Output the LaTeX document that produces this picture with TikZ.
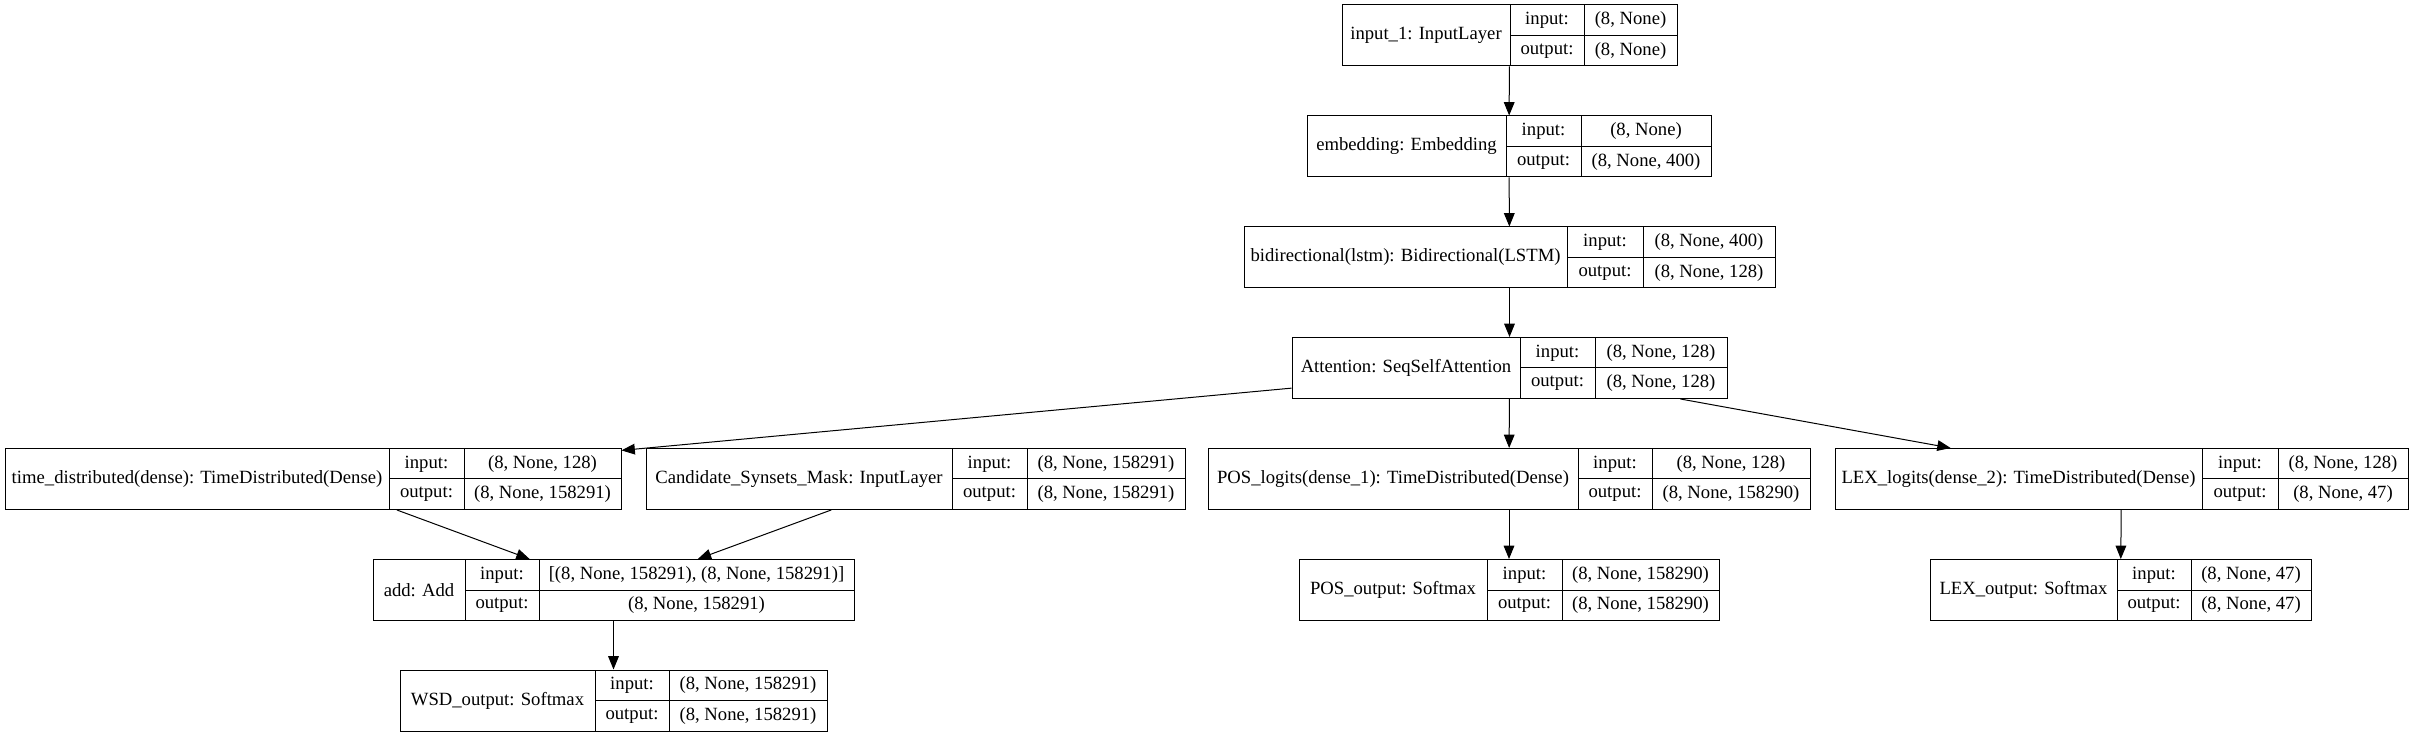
\documentclass[tikz,border=0pt]{standalone}
\usepackage{fontspec}
\setmainfont{Liberation Serif}
\usetikzlibrary{arrows.meta,fit}
\tikzset{
  box/.style={draw=black, line width=0.75pt, inner sep=0pt, rectangle},
  cell/.style={draw=black, line width=0.75pt},
  txt/.style={font=\fontsize{14pt}{16pt}\selectfont, inner sep=0pt, anchor=center},
  arr/.style={draw=black, line width=0.75pt, -{Triangle[length=10pt,width=8pt]}},
}
% name, left, div1, div2, right, top, label, input value, output value
\newcommand\kerasLayer[9]{%
  \pgfmathsetmacro\kB{#6+61}%
  \pgfmathsetmacro\kM{#6+30.5}%
  \pgfmathsetmacro\kUp{#6+15.5}%
  \pgfmathsetmacro\kDn{#6+46}%
  \pgfmathsetmacro\kA{(#2+#3)/2}%
  \pgfmathsetmacro\kC{(#3+#4)/2}%
  \pgfmathsetmacro\kD{(#4+#5)/2}%
  \node[box, fit={(#2,#6) (#5,\kB)}] (#1) {};
  \draw[cell] (#3,#6) -- (#3,\kB) (#4,#6) -- (#4,\kB) (#3,\kM) -- (#5,\kM);
  \node[txt] at (\kA,\kM) {#7};
  \node[txt] at (\kC,\kUp) {input:};
  \node[txt] at (\kC,\kDn) {output:};
  \node[txt] at (\kD,\kUp) {#8};
  \node[txt] at (\kD,\kDn) {#9};
}
\begin{document}
\begin{tikzpicture}[x=0.75pt,y=-0.75pt]
\fill[white] (0,0) rectangle (2413,737);
\useasboundingbox (0,0) rectangle (2413,737);

\kerasLayer{inp}{1342}{1510}{1584}{1677}{5}{input\_1: InputLayer}{(8, None)}{(8, None)}
\kerasLayer{emb}{1307}{1506}{1581}{1711}{116}{embedding: Embedding}{(8, None)}{(8, None, 400)}
\kerasLayer{bid}{1244}{1567}{1643}{1775}{227}{bidirectional(lstm): Bidirectional(LSTM)}{(8, None, 400)}{(8, None, 128)}
\kerasLayer{att}{1292}{1520}{1595}{1727}{337.5}{Attention: SeqSelfAttention}{(8, None, 128)}{(8, None, 128)}

\kerasLayer{tdd}{5}{389}{464}{621}{448.5}{time\_distributed(dense): TimeDistributed(Dense)}{(8, None, 128)}{(8, None, 158291)}
\kerasLayer{csm}{646}{952}{1027}{1185}{448.5}{Candidate\_Synsets\_Mask: InputLayer}{(8, None, 158291)}{(8, None, 158291)}
\kerasLayer{posl}{1208}{1578}{1652}{1810}{448.5}{POS\_logits(dense\_1): TimeDistributed(Dense)}{(8, None, 128)}{(8, None, 158290)}
\kerasLayer{lexl}{1835}{2202}{2278}{2408}{448.5}{LEX\_logits(dense\_2): TimeDistributed(Dense)}{(8, None, 128)}{(8, None, 47)}

\kerasLayer{add}{373}{465}{539}{854}{559.5}{add: Add}{[(8, None, 158291), (8, None, 158291)]}{(8, None, 158291)}
\kerasLayer{poso}{1299}{1487}{1562}{1719}{559.5}{POS\_output: Softmax}{(8, None, 158290)}{(8, None, 158290)}
\kerasLayer{lexo}{1930}{2117}{2191}{2311}{559.5}{LEX\_output: Softmax}{(8, None, 47)}{(8, None, 47)}

\kerasLayer{wsd}{400}{595}{669}{827}{670}{WSD\_output: Softmax}{(8, None, 158291)}{(8, None, 158291)}

\draw[arr] (inp) -- (emb);
\draw[arr] (emb) -- (bid);
\draw[arr] (bid) -- (att);
\draw[arr] (att) -- (tdd);
\draw[arr] (att) -- (posl);
\draw[arr] (att) -- (lexl);
\draw[arr] (tdd) -- (add);
\draw[arr] (csm) -- (add);
\draw[arr] (posl) -- (poso);
\draw[arr] (lexl) -- (lexo);
\draw[arr] (add) -- (wsd);
\end{tikzpicture}
\end{document}
